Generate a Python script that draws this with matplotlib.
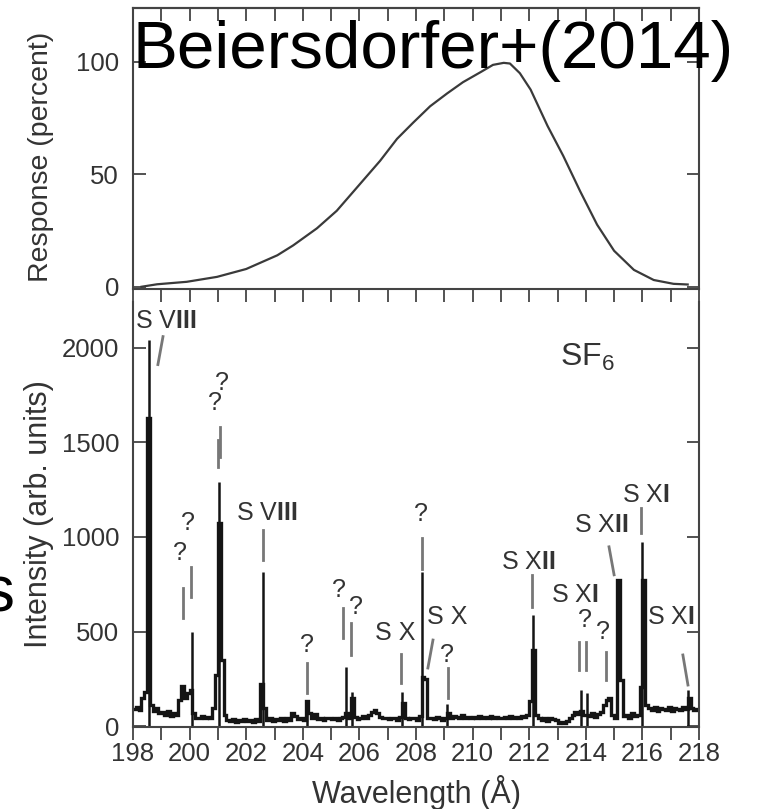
import matplotlib.pyplot as plt
import numpy as np

plt.rcParams['font.family'] = ['Liberation Sans', 'DejaVu Sans']
plt.rcParams['mathtext.fontset'] = 'custom'
plt.rcParams['mathtext.rm'] = 'Liberation Sans'
plt.rcParams['mathtext.bf'] = 'Liberation Sans:bold'

# detector response curve (percent)
resp_wl = [198.3, 198.85, 199.9, 200.97, 202.0, 203.1, 203.66, 204.5, 205.2, 205.8,
           206.73, 207.33, 207.9, 208.5, 209.1, 209.66, 210.3, 210.72, 211.1, 211.32,
           211.67, 212.05, 212.65, 213.2, 213.8, 214.4, 215.0, 215.7, 216.4, 217.1, 217.6]
resp_pct = [0, 1.1, 2.2, 4.4, 7.9, 14, 18.4, 26, 33.8, 42.5,
            56, 65.8, 73, 80.3, 86, 91, 95.6, 98.7, 99.6, 99.3,
            95, 87.7, 71.5, 58.3, 42.5, 27.6, 16, 7.5, 3, 1.3, 1]

# SF6 spectrum, 0.1 A bins starting at 198.0 A
bin_start = 198.0
bin_width = 0.1
counts = [
    90, 100, 85, 150, 180, 1630, 110, 80, 95, 70,      # 198
    75, 60, 80, 55, 70, 60, 140, 210, 150, 175,        # 199
    190, 70, 45, 40, 55, 40, 50, 45, 95, 270,          # 200
    1075, 350, 60, 30, 25, 35, 20, 30, 25, 35,         # 201
    25, 30, 20, 35, 25, 220, 95, 30, 40, 25,           # 202
    35, 30, 40, 25, 45, 30, 70, 55, 35, 40,            # 203
    30, 135, 70, 45, 65, 35, 40, 30, 45, 40,           # 204
    35, 45, 30, 40, 50, 70, 40, 150, 50, 35,           # 205
    40, 55, 45, 60, 75, 85, 70, 50, 45, 40,            # 206
    35, 45, 40, 30, 50, 120, 40, 35, 45, 40,           # 207
    30, 55, 260, 250, 45, 40, 35, 50, 40, 30,          # 208
    45, 70, 40, 55, 50, 45, 60, 40, 50, 45,            # 209
    50, 40, 55, 45, 50, 40, 55, 45, 50, 45,            # 210
    40, 50, 45, 55, 40, 50, 45, 55, 50, 60,            # 211
    135, 400, 60, 40, 30, 45, 25, 40, 35, 30,          # 212
    15, 20, 15, 25, 40, 60, 75, 65, 80, 60,            # 213
    60, 55, 70, 50, 65, 75, 110, 140, 150, 60,         # 214
    45, 770, 243, 55, 60, 45, 70, 55, 60, 208,         # 215
    772, 110, 95, 85, 100, 80, 95, 90, 85, 100,        # 216
    80, 95, 90, 85, 100, 90, 150, 95, 85, 90,          # 217
]

# narrow line cores
line_wl = [198.55, 200.08, 201.04, 202.58, 204.16, 205.52, 205.74, 207.52,
           208.21, 209.1, 212.12, 213.83, 214.03, 216.0, 217.6]
line_peak = [2040, 497, 1290, 815, 138, 310, 182, 180,
             815, 115, 590, 190, 176, 975, 190]

# line identifications: text, wavelength, intensity
ids_text = [r'S V$\mathbf{III}$', '?', '?', '?', '?', r'S V$\mathbf{III}$', '?', '?', '?',
            'S X', '?', 'S X', '?', r'S X$\mathbf{II}$', r'S X$\mathbf{I}$', '?', '?',
            r'S X$\mathbf{II}$', r'S X$\mathbf{I}$', r'S X$\mathbf{I}$']
ids_wl = [199.17, 201.14, 200.90, 199.94, 199.66, 202.73, 204.15, 205.28, 205.88,
          207.26, 208.18, 209.10, 209.10, 211.96, 213.62, 213.97, 214.61,
          214.54, 216.13, 217.01]
ids_y = [2140, 1817, 1711, 1075, 916, 1128, 429, 720, 630,
         493, 1123, 577, 376, 869, 694, 561, 498,
         1065, 1224, 577]

# marker ticks under the identifications: (wl1, y1, wl2, y2)
marks = [
    (199.06, 2060, 198.88, 1912),
    (201.07, 1584, 201.07, 1425),
    (201.00, 1515, 201.00, 1372),
    (199.77, 731, 199.77, 572),
    (200.05, 842, 200.05, 683),
    (202.59, 1038, 202.59, 879),
    (204.15, 334, 204.15, 175),
    (205.42, 625, 205.42, 466),
    (205.70, 546, 205.70, 376),
    (207.47, 381, 207.47, 228),
    (208.21, 996, 208.21, 830),
    (208.60, 455, 208.42, 307),
    (209.13, 307, 209.13, 148),
    (212.10, 800, 212.10, 630),
    (213.76, 445, 213.76, 297),
    (214.01, 445, 214.01, 297),
    (214.71, 392, 214.71, 244),
    (214.82, 948, 215.00, 800),
    (215.95, 1155, 215.95, 1022),
    (217.43, 376, 217.61, 217),
]

ink = '#333333'
spine_c = '#444444'
tick_fs = 18.5

fig = plt.figure(figsize=(7.58, 8.09), dpi=100)
ax1 = fig.add_axes([133 / 758, 1 - 289 / 809, 566 / 758, 281 / 809])
ax2 = fig.add_axes([133 / 758, 1 - 727 / 809, 566 / 758, 425 / 809])

# top panel: response
ax1.plot(resp_wl, resp_pct, color='#3a3a3a', lw=1.6)
ax1.set_xlim(198, 218)
ax1.set_ylim(-1, 124)
ax1.set_xticks(np.arange(198, 219, 1))
ax1.set_yticks([0, 50, 100])
ax1.tick_params(axis='x', direction='out', length=9, width=1.3, color=spine_c,
                labelbottom=False)
ax1.tick_params(axis='y', direction='in', right=True, length=9, width=1.3,
                color=spine_c, labelsize=tick_fs, labelcolor=ink, pad=10)
top = ax1.secondary_xaxis('top')
top.set_xticks(np.arange(198, 219, 1))
top.tick_params(axis='x', direction='in', length=9, width=1.3, color=spine_c,
                labeltop=False)
top.spines['top'].set_color(spine_c)
top.spines['top'].set_linewidth(1.5)
for s in ax1.spines.values():
    s.set_color(spine_c)
    s.set_linewidth(1.5)
ax1.set_ylabel('Response (percent)', fontsize=20.5, color=ink)
ax1.yaxis.set_label_coords(-0.14, 0.47)

# bottom panel: spectrum
edges = bin_start + bin_width * np.arange(len(counts) + 1)
ax2.stairs(counts, edges, color='#141414', lw=2.4, baseline=None)
ax2.vlines(line_wl, 0, line_peak, color='#141414', lw=1.8)
for x1, y1, x2, y2 in marks:
    ax2.plot([x1, x2], [y1, y2], color='#777777', lw=2)
for t, x, y in zip(ids_text, ids_wl, ids_y):
    ax2.text(x, y, t, ha='center', va='center', fontsize=18, color=ink)
ax2.text(214.04, 1949, r'SF$_6$', ha='center', va='center', fontsize=23, color=ink)

ax2.set_xlim(198, 218)
ax2.set_ylim(-5, 2243)
ax2.set_xticks(np.arange(198, 219, 2))
ax2.set_xticks(np.arange(198, 219, 1), minor=True)
ax2.set_yticks([0, 500, 1000, 1500, 2000])
ax2.tick_params(axis='x', which='both', direction='out', length=9, width=1.3,
                color=spine_c, labelsize=tick_fs, labelcolor=ink, pad=2)
ax2.tick_params(axis='y', direction='in', right=True, length=9, width=1.3,
                color=spine_c, labelsize=tick_fs, labelcolor=ink, pad=10)
ax2.spines['top'].set_visible(False)
for s in ['left', 'right', 'bottom']:
    ax2.spines[s].set_color(spine_c)
    ax2.spines[s].set_linewidth(1.5)
ax2.set_ylabel('Intensity (arb. units)', fontsize=22, color=ink)
ax2.yaxis.set_label_coords(-0.14, 0.5)
ax2.set_xlabel('Wavelength (Å)', fontsize=22, color=ink, labelpad=6)

fig.text(132 / 758, 1 - 68 / 809, 'Beiersdorfer+(2014)', fontsize=48.5,
         color='black', ha='left', va='baseline')
fig.text(14 / 758, 1 - 612 / 809, 's', fontsize=46, color='black',
         ha='right', va='baseline')

fig.savefig('out.png', dpi=100)
